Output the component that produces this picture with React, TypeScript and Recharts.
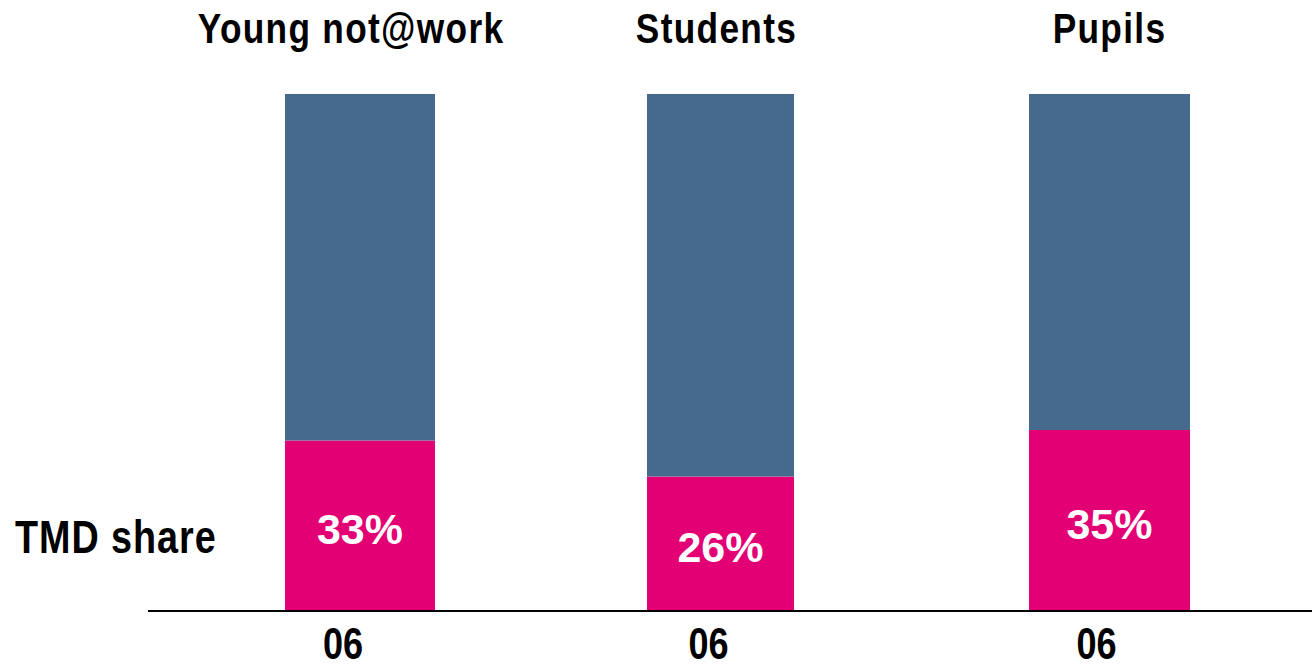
import React from 'react';
import { BarChart, Bar, XAxis, YAxis, LabelList } from 'recharts';

const groups = ['Young not@work', 'Students', 'Pupils'];
const years = ['06', '06', '06'];
const tmdShare = [33, 26, 35];
const otherShare = [67, 74, 65];

const PINK = '#E20074';
const BLUE = '#456A8D';
const SANS = "'Liberation Sans', Arial, sans-serif";
const NARROW_SCALE = 0.82; // no narrow font installed, squeeze Liberation Sans instead

// one panel per group, laid out side by side like the slide
const panels = [
  { left: 0, width: 572, marginLeft: 148, padLeft: 0, barSize: 150, titleDx: -9, tickDx: -17 },
  { left: 572, width: 297, marginLeft: 0, padLeft: 0, barSize: 147, titleDx: -4, tickDx: -12 },
  { left: 869, width: 443, marginLeft: 0, padLeft: 38, barSize: 161, titleDx: 0, tickDx: -13 },
];

const TitleTick = ({ x, payload, dx }: any) => (
  <text
    transform={`translate(${x + dx},43) scale(${NARROW_SCALE},1)`}
    textAnchor="middle"
    fontFamily={SANS}
    fontWeight="bold"
    fontSize={43}
    letterSpacing={1.6}
    fill="#000"
  >
    {payload.value}
  </text>
);

const YearTick = ({ x, payload, dx }: any) => (
  <text
    transform={`translate(${x + dx},659) scale(${NARROW_SCALE},1)`}
    textAnchor="middle"
    fontFamily={SANS}
    fontWeight="bold"
    fontSize={44}
    fill="#000"
  >
    {payload.value}
  </text>
);

export default function App() {
  return (
    <div style={{ position: 'absolute', left: 0, top: 0, width: 1312, height: 668, background: '#fff' }}>
      {panels.map((p, i) => {
        const data = [{ group: groups[i], year: years[i], tmd: tmdShare[i], other: otherShare[i] }];
        return (
          <div key={i} style={{ position: 'absolute', left: p.left, top: 0 }}>
            <BarChart
              width={p.width}
              height={668}
              data={data}
              margin={{ top: 0, right: 0, bottom: 0, left: p.marginLeft }}
            >
              <XAxis
                xAxisId="top"
                orientation="top"
                dataKey="group"
                height={94}
                axisLine={false}
                tickLine={false}
                padding={{ left: p.padLeft, right: 0 }}
                tick={<TitleTick dx={p.titleDx} />}
                interval={0}
              />
              <XAxis
                dataKey="year"
                height={57}
                axisLine={{ stroke: '#000', strokeWidth: 2 }}
                tickLine={false}
                tickSize={0}
                padding={{ left: p.padLeft, right: 0 }}
                tick={<YearTick dx={p.tickDx} />}
                interval={0}
              />
              <YAxis hide domain={[0, 100]} />
              <Bar dataKey="tmd" stackId="s" fill={PINK} barSize={p.barSize} isAnimationActive={false}>
                <LabelList
                  dataKey="tmd"
                  position="center"
                  formatter={(v: any) => `${v}%`}
                  fill="#fff"
                  fontSize={43}
                  fontWeight="bold"
                  fontFamily={SANS}
                  dy={3}
                />
              </Bar>
              <Bar dataKey="other" stackId="s" fill={BLUE} barSize={p.barSize} isAnimationActive={false} />
            </BarChart>
          </div>
        );
      })}
      <div
        style={{
          position: 'absolute',
          left: 15,
          top: 511,
          fontFamily: SANS,
          fontWeight: 'bold',
          fontSize: 46,
          letterSpacing: 1.2,
          lineHeight: '52px',
          color: '#000',
          whiteSpace: 'nowrap',
          transform: `scaleX(${NARROW_SCALE})`,
          transformOrigin: 'left center',
        }}
      >
        TMD share
      </div>
    </div>
  );
}
